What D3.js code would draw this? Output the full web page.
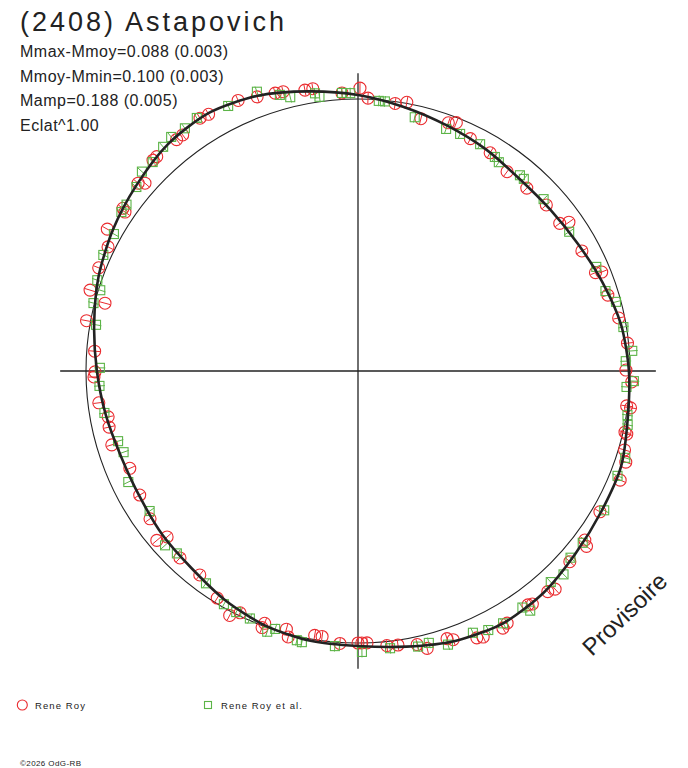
<!DOCTYPE html>
<html>
<head>
<meta charset="utf-8">
<script src="https://cdn.jsdelivr.net/npm/d3@7"></script>
<style>
  html, body { margin: 0; padding: 0; background: #fff; }
  svg { display: block; font-family: "Liberation Sans", Arial, sans-serif; }
</style>
</head>
<body>
<svg id="chart" width="688" height="768"></svg>
<script>
// ---- Data (rotational phase in degrees, clockwise from top; relative flux, mean = 1) ----
const title = "(2408) Astapovich";
const infoLines = ["Mmax-Mmoy=0.088 (0.003)", "Mmoy-Mmin=0.100 (0.003)", "Mamp=0.188 (0.005)", "Eclat^1.00"];
const seriesNames = ["Rene Roy", "Rene Roy et al."];
const watermark = "Provisoire";
const copyright = "\u00A92026 OdG-RB";

const meanFlux = 1.0;
const axisExtent = 1.095;
const errFlux = 0.02;

const curvePhase = [0,10,20,30,40,50,60,70,80,90,100,110,120,130,140,150,160,170,
                    180,190,200,210,220,230,240,250,260,270,280,290,300,310,320,330,340,350];
const curveFlux  = [1.015,0.985,0.960,0.941,0.923,0.923,0.934,0.956,0.982,0.996,1.007,1.029,
                    1.033,1.044,1.063,1.070,1.055,1.029,1.011,1.007,0.996,0.974,0.949,0.938,
                    0.926,0.926,0.941,0.960,0.985,1.015,1.040,1.063,1.088,1.096,1.077,1.044];

// Series 1: Rene Roy (circles)
const phaseRoy = [349.3,350.9,356.7,0.4,2.1,7.9,10.3,14.0,20.0,21.6,25.8,31.2,36.8,42.7,48.6,53.8,54.8,
  61.8,67.5,67.9,73.1,78.5,84.1,89.8,92.3,97.4,97.7,102.9,103.2,106.5,108.8,112.6,120.2,126.7,127.5,
  132.0,139.3,137.9,144.0,143.2,149.4,150.6,154.8,156.0,160.5,161.6,166.0,167.8,171.7,174.0,178.1,
  179.2,180.0,183.8,187.7,189.3,194.7,195.5,200.3,200.5,206.0,207.7,211.8,217.8,223.6,229.0,229.9,
  234.6,240.4,246.9,253.3,257.3,259.6,263.0,268.7,269.8,274.3,280.5,285.0,286.8,291.7,296.4,299.5,
  304.7,304.3,310.5,311.4,315.8,316.8,321.9,323.4,328.0,329.8,336.1,339.8,343.4,345.0];
const fluxRoy = [1.051,1.051,1.024,1.040,1.004,0.993,1.004,0.956,0.971,0.982,0.949,0.938,0.915,0.915,0.923,0.919,0.949,
  0.934,0.945,0.967,0.960,0.978,0.996,0.985,1.007,0.996,1.011,1.007,1.015,1.022,1.040,1.044,1.029,1.040,1.059,
  1.048,1.070,1.081,1.063,1.070,1.077,1.085,1.081,1.074,1.048,1.037,1.051,1.029,1.018,1.015,1.000,
  1.000,1.000,1.004,0.985,0.985,1.011,0.985,0.989,1.007,0.989,1.015,0.982,0.949,0.949,0.930,0.967,
  0.938,0.923,0.912,0.945,0.938,0.934,0.960,0.971,0.967,0.971,1.015,0.963,1.029,1.026,1.026,1.059,
  1.051,1.037,1.063,1.044,1.081,1.081,1.081,1.081,1.096,1.092,1.088,1.074,1.066,1.063];

// Series 2: Rene Roy et al. (squares)
const phaseRoyEtAl = [351.2,352.0,356.7,358.4,4.4,5.7,12.6,20.0,23.3,28.3,32.6,34.0,39.6,40.8,47.2,56.6,
  66.4,72.1,75.0,80.6,85.8,87.9,92.1,93.4,99.3,101.3,108.0,112.0,119.5,127.4,131.3,134.7,137.6,144.3,
  145.2,150.1,153.3,156.3,161.8,165.4,167.7,173.4,179.2,184.8,191.7,192.8,197.8,199.2,203.6,206.8,
  209.9,215.6,224.8,227.9,236.1,244.2,250.9,253.7,260.6,266.7,270.7,280.0,284.4,287.4,289.2,294.5,
  299.3,303.9,305.7,309.7,312.7,315.5,319.0,321.4,324.5,327.5,333.9,340.1,344.2,346.1];
const fluxRoyEtAl = [1.033,1.018,1.024,1.022,0.996,0.996,0.956,0.947,0.949,0.947,0.934,0.926,0.934,0.933,0.930,0.930,
  0.956,0.956,0.982,0.989,1.011,0.985,1.015,0.989,1.004,1.011,1.033,1.029,1.040,1.040,1.040,1.063,1.051,1.085,
  1.059,1.070,1.066,1.051,1.059,1.033,1.037,1.026,1.033,1.015,1.018,1.015,0.996,1.015,0.993,0.993,
  0.989,0.960,0.945,0.956,0.923,0.938,0.912,0.919,0.945,0.952,0.949,0.978,1.004,0.993,1.015,1.029,
  1.029,1.048,1.048,1.059,1.081,1.077,1.092,1.101,1.096,1.103,1.085,1.092,1.055,1.037];

// ---- Layout / style ----
const W = 688, H = 768;
const cx = 358, cy = 371;
const R = 272;
const RED = "#ea2a2e", GREEN = "#5cb447", INK = "#222";

const svg = d3.select("#chart");
svg.append("rect").attr("width", W).attr("height", H).attr("fill", "#fff");

const rScale = d3.scaleLinear().domain([0, meanFlux]).range([0, R]);
const aScale = d3.scaleLinear().domain([0, 360]).range([0, 2 * Math.PI]);

const g = svg.append("g").attr("transform", `translate(${cx},${cy})`);

// Mean circle (thin)
g.append("circle").attr("r", rScale(meanFlux))
  .attr("fill", "none").attr("stroke", INK).attr("stroke-width", 1.1);

// Crosshair axes
[0, 90, 180, 270].forEach(a => {
  const p = d3.pointRadial(aScale(a), rScale(axisExtent));
  g.append("line").attr("x1", 0).attr("y1", 0).attr("x2", p[0]).attr("y2", p[1])
    .attr("stroke", INK).attr("stroke-width", 1.3);
});

// Markers
function addSeries(phases, fluxes, color, shape) {
  const pts = phases.map((p, i) => ({p, f: fluxes[i]}));
  const sg = g.append("g");
  pts.forEach(d => {
    const a = aScale(d.p);
    const c = d3.pointRadial(a, rScale(d.f));
    const e1 = d3.pointRadial(a, rScale(d.f - errFlux));
    const e2 = d3.pointRadial(a, rScale(d.f + errFlux));
    sg.append("line").attr("x1", e1[0]).attr("y1", e1[1]).attr("x2", e2[0]).attr("y2", e2[1])
      .attr("stroke", color).attr("stroke-width", 1);
    if (shape === "circle") {
      sg.append("circle").attr("cx", c[0]).attr("cy", c[1]).attr("r", 6)
        .attr("fill", "none").attr("stroke", color).attr("stroke-width", 1.1);
    } else {
      sg.append("rect").attr("x", c[0] - 4.5).attr("y", c[1] - 4.5).attr("width", 9).attr("height", 9)
        .attr("fill", "none").attr("stroke", color).attr("stroke-width", 1.1);
    }
  });
}
addSeries(phaseRoy, fluxRoy, RED, "circle");
addSeries(phaseRoyEtAl, fluxRoyEtAl, GREEN, "square");

// Model light curve (thick)
const curvePts = curvePhase.map((p, i) => ({p, f: curveFlux[i]}));
const line = d3.lineRadial()
  .angle(d => aScale(d.p))
  .radius(d => rScale(d.f))
  .curve(d3.curveCardinalClosed.tension(0.2));
g.append("path").datum(curvePts).attr("d", line)
  .attr("fill", "none").attr("stroke", INK).attr("stroke-width", 2.6);

// Title and info
svg.append("text").attr("x", 20).attr("y", 31).text(title)
  .attr("font-size", 27).attr("fill", INK).style("letter-spacing", "3px");
infoLines.forEach((t, i) => {
  svg.append("text").attr("x", 20).attr("y", 57 + i * 24.6).text(t)
    .attr("font-size", 16).attr("fill", INK).style("letter-spacing", "0.5px");
});

// Watermark
svg.append("text").attr("transform", "translate(592,657) rotate(-44)")
  .text(watermark).attr("font-size", 24).attr("fill", INK);

// Legend
svg.append("circle").attr("cx", 22.3).attr("cy", 705).attr("r", 5)
  .attr("fill", "none").attr("stroke", RED).attr("stroke-width", 1.1);
svg.append("text").attr("x", 35).attr("y", 709).text(seriesNames[0])
  .attr("font-size", 9.5).attr("fill", INK).style("letter-spacing", "1.1px");
svg.append("rect").attr("x", 204.5).attr("y", 701.5).attr("width", 7).attr("height", 7)
  .attr("fill", "none").attr("stroke", GREEN).attr("stroke-width", 1.1);
svg.append("text").attr("x", 221).attr("y", 709).text(seriesNames[1])
  .attr("font-size", 9.5).attr("fill", INK).style("letter-spacing", "1.1px");

// Copyright
svg.append("text").attr("x", 20).attr("y", 766).text(copyright)
  .attr("font-size", 8).attr("fill", INK).style("letter-spacing", "0.4px");
</script>
</body>
</html>
